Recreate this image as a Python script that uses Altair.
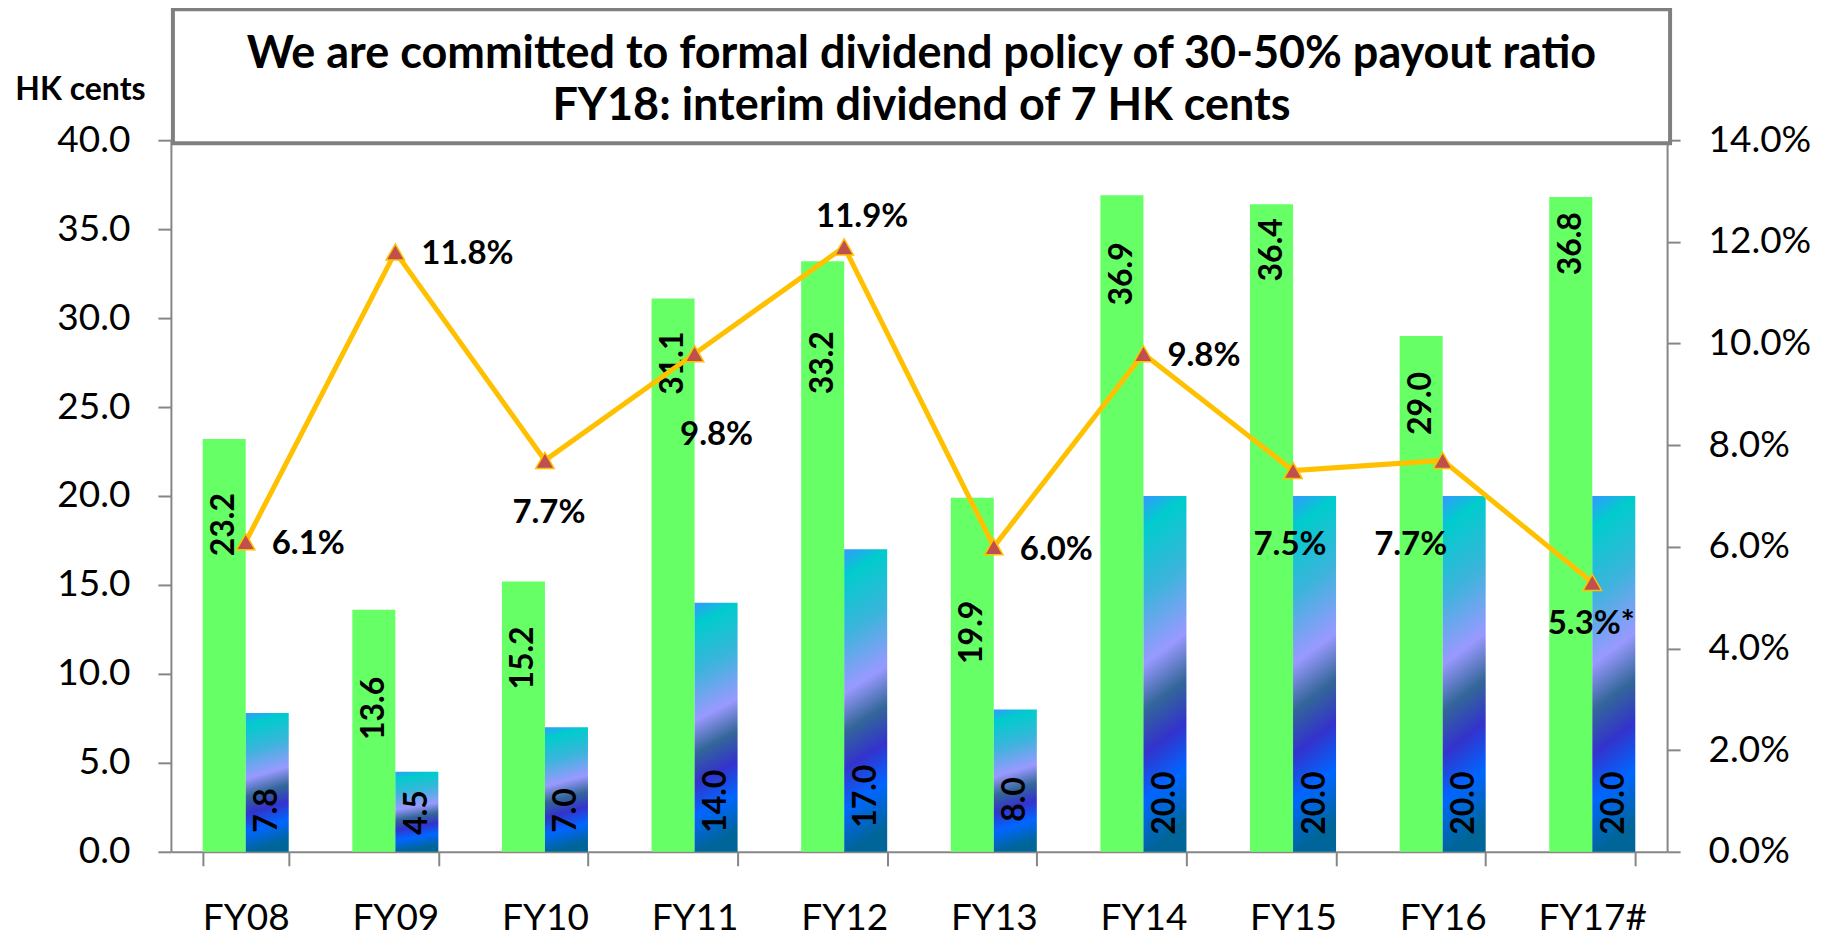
import altair as alt
import pandas as pd

# ---------------- data ----------------
CATEGORIES = ["FY08", "FY09", "FY10", "FY11", "FY12", "FY13", "FY14", "FY15", "FY16", "FY17#"]
EARNINGS = [23.2, 13.6, 15.2, 31.1, 33.2, 19.9, 36.9, 36.4, 29.0, 36.8]
DIVIDENDS = [7.8, 4.5, 7.0, 14.0, 17.0, 8.0, 20.0, 20.0, 20.0, 20.0]
YIELDS = [6.1, 11.8, 7.7, 9.8, 11.9, 6.0, 9.8, 7.5, 7.7, 5.3]
YIELD_NOTES = ["", "", "", "", "", "", "", "", "", "*"]
SERIES = ["Earnings", "Dividend"]
TITLE_LINES = ["We are committed to formal dividend policy of 30-50% payout ratio",
               "FY18: interim dividend of 7 HK cents"]
LEFT_AXIS_TITLE = "HK cents"
LEFT_TICKS = [0, 5, 10, 15, 20, 25, 30, 35, 40]
RIGHT_TICKS = [0, 2, 4, 6, 8, 10, 12, 14]

# ---------------- label placement styling (pixels) ----------------
EARN_LABEL_DROP = [54, 67, 45, 33, 70, 103, 47, 14, 36, 15]
DIV_LABEL_LIFT = [19, 17, 19, 19, 24, 30, 17, 17, 17, 17]
YIELD_LABEL_POS = [(26, 2, "left"), (26, 2, "left"), (4, 53, "center"), (22, 81, "center"),
                   (18, -30, "center"), (26, 3, "left"), (24, 2, "left"), (-3, 74, "center"),
                   (-32, 85, "center"), (-1, 42, "center")]

GRAY = "#868686"
GREEN = "#66FF66"
LINE_COLOR = "#FFC000"
MARKER_FILL = "#C0504D"
FONT = "Lato"

bars_df = pd.DataFrame({
    "cat": CATEGORIES * 2,
    "series": [SERIES[0]] * len(CATEGORIES) + [SERIES[1]] * len(CATEGORIES),
    "value": EARNINGS + DIVIDENDS,
})
bars_df["label"] = bars_df["value"].map(lambda v: f"{v:.1f}")
bars_df["zero"] = 0.0

line_df = pd.DataFrame({"cat": CATEGORIES, "yield": YIELDS, "note": YIELD_NOTES})


def xenc():
    return alt.X(
        "cat:N",
        scale=alt.Scale(domain=CATEGORIES, paddingInner=0.425, paddingOuter=0.2125),
        axis=alt.Axis(title=None, tickBand="extent", labelAngle=0, labelFont=FONT,
                      labelFontSize=37, labelColor="black", labelPadding=35,
                      tickSize=14, tickColor=GRAY, tickWidth=2,
                      domainColor=GRAY, domainWidth=2, labelFlush=False),
    )


left_axis = alt.Axis(
    values=LEFT_TICKS, format=".1f", grid=False, labelFont=FONT, labelFontSize=37,
    labelColor="black", labelPadding=28, tickSize=13, tickColor=GRAY, tickWidth=2,
    domainColor=GRAY, domainWidth=2, title=LEFT_AXIS_TITLE, titleAngle=0,
    titleFont=FONT, titleFontSize=32, titleFontWeight="bold", titleColor="black",
    titleX=-91, titleY=-51, titleAlign="center", titleBaseline="middle",
)
right_axis = alt.Axis(
    orient="right", values=RIGHT_TICKS, labelExpr="format(datum.value, '.1f') + '%'",
    grid=False, labelFont=FONT, labelFontSize=37, labelColor="black", labelPadding=28,
    tickSize=13, tickColor=GRAY, tickWidth=2, domainColor=GRAY, domainWidth=2, title=None,
)
left_scale = alt.Scale(domain=[0, 40], nice=False)
right_scale = alt.Scale(domain=[0, 14], nice=False)
xoff = alt.XOffset("series:N", scale=alt.Scale(domain=SERIES, paddingInner=0, paddingOuter=0))

blue_gradient = {
    "gradient": "linear", "x1": 0, "y1": 0, "x2": 0.09, "y2": 1,
    "stops": [
        {"offset": 0.0, "color": "#3399FF"},
        {"offset": 0.09, "color": "#00CCCC"},
        {"offset": 0.28, "color": "#3CB4DC"},
        {"offset": 0.47, "color": "#9999FF"},
        {"offset": 0.60, "color": "#336699"},
        {"offset": 0.72, "color": "#3333CC"},
        {"offset": 0.85, "color": "#0066FF"},
        {"offset": 1.0, "color": "#006699"},
    ],
}

earn_bars = alt.Chart().mark_bar(color=GREEN).encode(
    x=xenc(), xOffset=xoff,
    y=alt.Y("value:Q", scale=left_scale, axis=left_axis),
).transform_filter(f"datum.series == '{SERIES[0]}'")

div_bars = alt.Chart().mark_bar(color=blue_gradient).encode(
    x=xenc(), xOffset=xoff,
    y=alt.Y("value:Q", scale=left_scale, axis=left_axis),
).transform_filter(f"datum.series == '{SERIES[1]}'")

left_layers = [earn_bars, div_bars]
for cat, drop in zip(CATEGORIES, EARN_LABEL_DROP):
    left_layers.append(
        alt.Chart().mark_text(angle=270, align="right", baseline="middle", dx=-drop,
                              font=FONT, fontSize=32, fontWeight="bold", color="black")
        .encode(x=xenc(), xOffset=xoff,
                y=alt.Y("value:Q", scale=left_scale, axis=left_axis), text="label:N")
        .transform_filter(f"datum.series == '{SERIES[0]}' && datum.cat == '{cat}'")
    )
for cat, lift in zip(CATEGORIES, DIV_LABEL_LIFT):
    left_layers.append(
        alt.Chart().mark_text(angle=270, align="left", baseline="middle", dx=lift,
                              font=FONT, fontSize=32, fontWeight="bold", color="black")
        .encode(x=xenc(), xOffset=xoff,
                y=alt.Y("zero:Q", scale=left_scale, axis=left_axis), text="label:N")
        .transform_filter(f"datum.series == '{SERIES[1]}' && datum.cat == '{cat}'")
    )

left_group = alt.layer(*left_layers, data=bars_df)

yR = alt.Y("yield:Q", scale=right_scale, axis=right_axis)
line = alt.Chart().mark_line(color=LINE_COLOR, strokeWidth=5).encode(x=xenc(), y=yR)
points = alt.Chart().mark_point(shape="triangle-up", filled=True, fill=MARKER_FILL,
                                stroke=LINE_COLOR, strokeWidth=1.5, size=340,
                                opacity=1).encode(x=xenc(), y=yR)
right_layers = [line, points]
for cat, (dx, dy, align) in zip(CATEGORIES, YIELD_LABEL_POS):
    right_layers.append(
        alt.Chart().mark_text(align=align, baseline="middle", dx=dx, dy=dy, font=FONT,
                              fontSize=33, fontWeight="bold", color="black")
        .encode(x=xenc(), y=yR, text="txt:N")
        .transform_calculate(txt="format(datum.yield, '.1f') + '%' + datum.note")
        .transform_filter(f"datum.cat == '{cat}'")
    )
right_group = alt.layer(*right_layers, data=line_df)

deco_df = pd.DataFrame({"k": [0]})
title_box = alt.Chart(deco_df).mark_rect(fill="white", stroke="#7F7F7F", strokeWidth=4).encode(
    x=alt.value(2), x2=alt.value(1500), y=alt.value(-131), y2=alt.value(3)
)
title_text = alt.Chart(deco_df).mark_text(
    align="center", baseline="alphabetic", font=FONT, fontSize=45, fontWeight="bold",
    lineHeight=52, color="black"
).encode(x=alt.value(751), y=alt.value(-72), text=alt.value(TITLE_LINES))

chart = alt.layer(left_group, right_group, title_box, title_text).resolve_scale(
    y="independent"
).properties(
    width=1497, height=712,
    autosize=alt.AutoSizeParams(type="none"),
    padding={"left": 163, "top": 132, "right": 160, "bottom": 86},
    background="white",
).configure_view(stroke=None)

chart.save("out.html", embed_options={"renderer": "svg", "actions": False})
